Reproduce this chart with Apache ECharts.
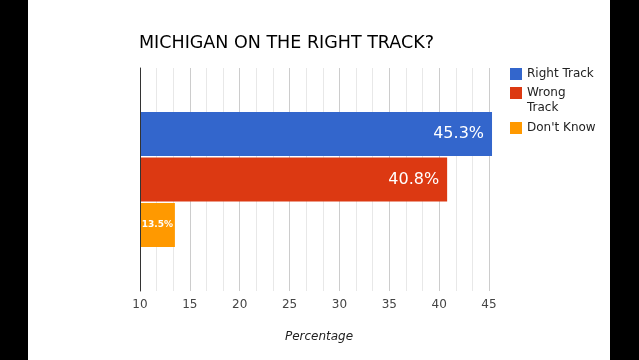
<!DOCTYPE html>
<html><head><meta charset="utf-8">
<script src="https://cdn.jsdelivr.net/npm/echarts@6/dist/echarts.min.js"></script>
<style>html,body{margin:0;padding:0;background:#000;}#c{width:639px;height:360px;}</style>
</head><body><div id="c"></div>
<script>
const title = 'MICHIGAN ON THE RIGHT TRACK?';
const categories = [''];
const seriesNames = ['Right Track', 'Wrong Track', "Don't Know"];
const rightTrack = [45.3];
const wrongTrack = [40.8];
const dontKnow = [13.5];
const axisName = 'Percentage';
const colors = ['#3366CC', '#DC3912', '#FF9900'];
const FONT = 'DejaVu Sans';

const chart = echarts.init(document.getElementById('c'));
const bigLabel = {show:true, position:'insideRight', distance:8, color:'#fff', fontSize:16, fontFamily:FONT, formatter: p => p.value + '%'};
const mkLegend = (name, top, extra) => Object.assign({
  data:[name], left:510, top:top, orient:'vertical', itemWidth:12, itemHeight:12, itemGap:0,
  icon:'rect', selectedMode:false, padding:0,
  textStyle:{fontFamily:FONT, fontSize:12, color:'#222', lineHeight:15}
}, extra||{});
const barCommon = {type:'bar', xAxisIndex:1, yAxisIndex:1, barWidth:44, barGap:'3.5%'};
chart.setOption({
  backgroundColor:'#000',
  animation:false,
  graphic:[{type:'rect', z:-10, shape:{x:28, y:0, width:582, height:360}, style:{fill:'#fff'}}],
  title:{text:title, left:139, top:34, padding:0, textStyle:{fontFamily:FONT, fontSize:17.5, fontWeight:'normal', color:'#000'}},
  legend:[
    mkLegend(seriesNames[0], 66.5),
    mkLegend(seriesNames[1], 70.5, {formatter: n => '\n' + n.replace(' ', '\n')}),
    mkLegend(seriesNames[2], 120.5)
  ],
  grid:[
    {left:140, right:150, top:68, bottom:69, containLabel:false},
    {left:140, right:140, top:68, bottom:69, containLabel:false}
  ],
  xAxis:[{type:'value', gridIndex:0, min:10, max:45, interval:5,
    name:axisName, nameLocation:'middle', nameGap:40,
    nameTextStyle:{fontFamily:FONT, fontSize:12, fontStyle:'italic', color:'#222', padding:[0,0,0,9]},
    axisLine:{show:false}, axisTick:{show:false},
    axisLabel:{fontFamily:FONT, fontSize:12, color:'#444', margin:8},
    splitLine:{show:true, lineStyle:{color:'#cccccc', width:1}},
    minorTick:{show:false, splitNumber:3},
    minorSplitLine:{show:true, lineStyle:{color:'#e8e8e8', width:1}}
  },
  {type:'value', gridIndex:1, min:10, max:46, show:false}],
  yAxis:[{type:'category', gridIndex:0, data:categories, z:5, axisLine:{show:true, lineStyle:{color:'#333', width:1}},
    axisTick:{show:false}, axisLabel:{show:false}},
    {type:'category', gridIndex:1, data:categories, show:false}],
  series:[
    Object.assign({name:seriesNames[0], data:rightTrack, itemStyle:{color:colors[0]}, label:bigLabel}, barCommon),
    Object.assign({name:seriesNames[1], data:wrongTrack, itemStyle:{color:colors[1]}, label:bigLabel}, barCommon),
    Object.assign({name:seriesNames[2], data:dontKnow, itemStyle:{color:colors[2]},
      label:{show:true, position:'inside', color:'#fff', fontSize:9, fontWeight:'bold', fontFamily:FONT, formatter: p => p.value + '%'}}, barCommon)
  ]
});
</script></body></html>
